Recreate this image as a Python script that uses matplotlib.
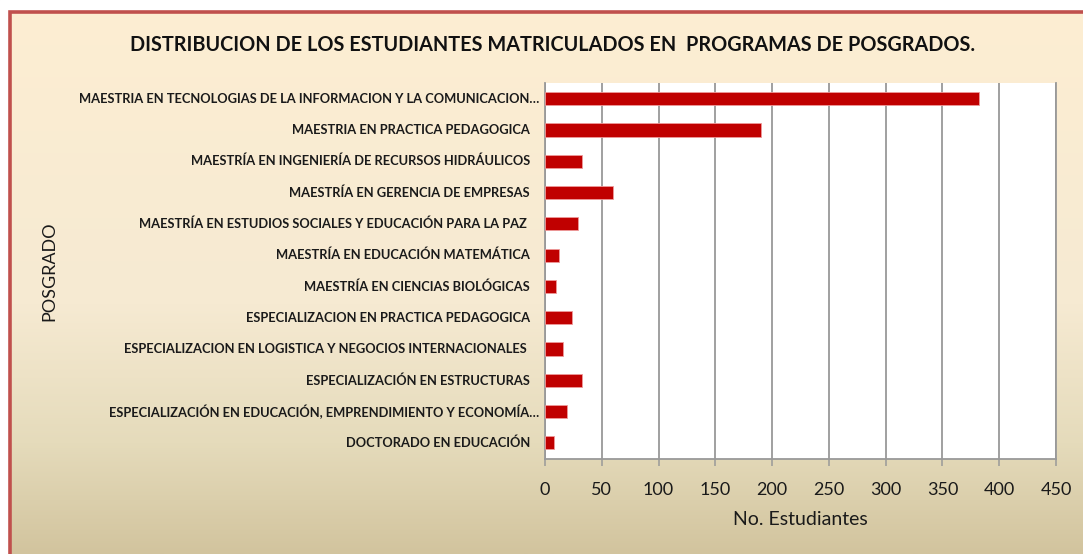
import matplotlib
matplotlib.use("Agg")
import matplotlib.pyplot as plt
import numpy as np
from matplotlib.colors import LinearSegmentedColormap
from matplotlib.patches import Rectangle
from matplotlib.transforms import offset_copy

categories = [
    "MAESTRIA EN TECNOLOGIAS DE LA INFORMACION Y LA COMUNICACION…",
    "MAESTRIA EN PRACTICA PEDAGOGICA",
    "MAESTRÍA EN INGENIERÍA DE RECURSOS HIDRÁULICOS",
    "MAESTRÍA EN GERENCIA DE EMPRESAS",
    "MAESTRÍA EN ESTUDIOS SOCIALES Y EDUCACIÓN PARA LA PAZ ",
    "MAESTRÍA EN EDUCACIÓN MATEMÁTICA",
    "MAESTRÍA EN CIENCIAS BIOLÓGICAS",
    "ESPECIALIZACION EN PRACTICA PEDAGOGICA",
    "ESPECIALIZACION EN LOGISTICA Y NEGOCIOS INTERNACIONALES ",
    "ESPECIALIZACIÓN EN ESTRUCTURAS",
    "ESPECIALIZACIÓN EN EDUCACIÓN, EMPRENDIMIENTO Y ECONOMÍA…",
    "DOCTORADO EN EDUCACIÓN",
]
values = [382, 190, 33, 60, 29, 12, 10, 24, 16, 33, 19, 8]
x_ticks = [0, 50, 100, 150, 200, 250, 300, 350, 400, 450]

title = "DISTRIBUCION DE LOS ESTUDIANTES MATRICULADOS EN  PROGRAMAS DE POSGRADOS."
xlabel = "No. Estudiantes"
ylabel = "POSGRADO"

W, H = 1083, 554
fig = plt.figure(figsize=(W / 100, H / 100), dpi=100)
fig.patch.set_facecolor("white")

# background gradient
bg = fig.add_axes([0, 0, 1, 1], zorder=-10)
cmap = LinearSegmentedColormap.from_list(
    "bg", [(0.0, "#fdeed3"), (0.55, "#f6ead2"), (0.8, "#e5dbbb"), (1.0, "#d2c49e")])
grad = np.linspace(0, 1, 256).reshape(-1, 1)
bg.imshow(grad, aspect="auto", cmap=cmap, extent=[0, 1, 0, 1], origin="upper")
bg.set_xlim(0, 1)
bg.set_ylim(0, 1)
bg.axis("off")
bg.add_patch(Rectangle((0, 0), 8 / W, 1, transform=bg.transAxes, color="white", zorder=2))
bg.add_patch(Rectangle((0, 1 - 10 / H), 1, 10 / H, transform=bg.transAxes, color="white", zorder=2))
bg.add_patch(Rectangle((9.5 / W, -0.05), 1.2, 1 - 11.5 / H + 0.05, transform=bg.transAxes,
                       fill=False, edgecolor="#c0504d", linewidth=2.6, zorder=3))

left, right = 545 / W, 1056 / W
top, bottom = 1 - 83 / H, 1 - 458.5 / H
ax = fig.add_axes([left, bottom, right - left, top - bottom])
ax.set_facecolor("white")

y = np.arange(len(categories))
ax.barh(y, values, height=0.42, color="#c00000", edgecolor="#ee9a9a", linewidth=0.6, zorder=3)
ax.set_ylim(len(categories) - 0.5, -0.5)
ax.set_xlim(0, 450)
ax.set_xticks(x_ticks)
ax.set_xticklabels([str(t) for t in x_ticks], fontsize=13, family="Lato", color="#1a1a1a")
ax.set_yticks(y)
ax.set_yticklabels([])
ax.xaxis.grid(True, color="#999999", linewidth=1.3, zorder=0)
ax.set_axisbelow(True)
ax.spines["top"].set_visible(False)
for s in ["left", "bottom", "right"]:
    ax.spines[s].set_color("#999999")
    ax.spines[s].set_linewidth(1.3)
ax.tick_params(axis="x", length=5, width=1.1, color="#999999", pad=12)
ax.tick_params(axis="y", length=0)

# category labels (truncated ones sit closer to the axis, as in the original)
ytr = ax.get_yaxis_transform()
for yi, lab in zip(y, categories):
    off = -6 if lab.endswith("…") else -15
    tr = offset_copy(ytr, fig=fig, x=off, y=0, units="dots")
    ax.text(0, yi, lab, transform=tr, ha="right", va="center", fontsize=9.3,
            family="Lato", fontweight="bold", color="#1a1a1a")

ax.set_xlabel(xlabel, fontsize=14, family="Lato", color="#1a1a1a", labelpad=9)
fig.text(49 / W, 1 - 271 / H, ylabel, rotation=90, ha="center", va="center",
         fontsize=13, family="Lato", color="#1a1a1a")
fig.text(553 / W, 1 - 45 / H, title, ha="center", va="center",
         fontsize=14.3, family="Lato", fontweight="bold", color="#111111")

fig.savefig("out.png", dpi=100)
